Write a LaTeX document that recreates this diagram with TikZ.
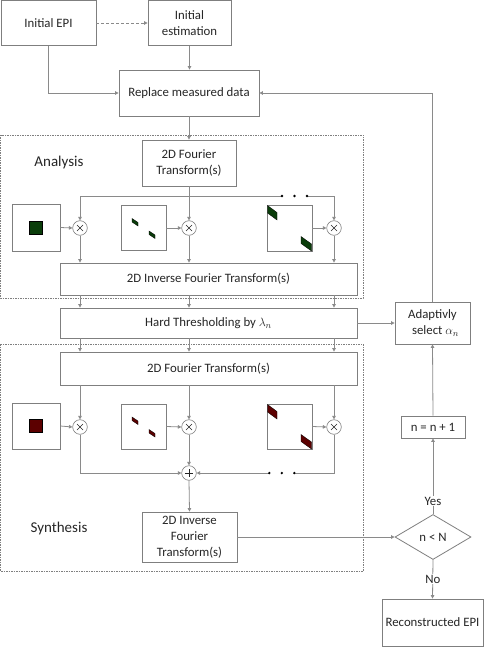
\documentclass[tikz,border=0pt]{standalone}
\usepackage{fontspec}
\setmainfont{Carlito}
\usetikzlibrary{arrows.meta,shapes.geometric}
\definecolor{ln}{HTML}{8A8A8A}
\definecolor{bd}{HTML}{7F7F7F}
\definecolor{dgreen}{HTML}{0A3D0A}
\definecolor{dred}{HTML}{5C0000}
\definecolor{txt}{HTML}{262626}
\tikzset{
  box/.style={draw=bd, line width=0.8pt, fill=white, inner sep=1pt, align=center,
    text=txt, font=\fontsize{12.8}{15.8}\selectfont},
  filt/.style={draw=bd, line width=0.8pt, fill=white, inner sep=0pt},
  mult/.style={draw=bd, line width=0.6pt, circle, minimum size=14.6pt, inner sep=0pt, fill=white,
    path picture={\draw[txt, line width=0.6pt, shift={(path picture bounding box.center)}] (-3,-3)--(3,3) (-3,3)--(3,-3);}},
  plus/.style={draw=bd, line width=0.6pt, circle, minimum size=14.6pt, inner sep=0pt, fill=white,
    path picture={\draw[txt, line width=0.6pt, shift={(path picture bounding box.center)}] (-4,0)--(4,0) (0,-4)--(0,4);}},
  conn/.style={draw=ln, line width=0.8pt},
  arr/.style={conn, -{Triangle[length=3.5pt,width=3.5pt]}},
  grp/.style={draw=bd, line width=0.6pt, dash pattern=on 1.5pt off 1pt},
  lbl/.style={text=txt, font=\fontsize{12.8}{15.8}\selectfont, fill=white, inner sep=1pt},
  big/.style={text=txt, font=\fontsize{15}{18}\selectfont},
  dot/.style={fill=black, circle, inner sep=0pt, minimum size=2.6pt}
}
\begin{document}
\begin{tikzpicture}[x=1pt, y=-1pt]
\useasboundingbox (0,0) rectangle (485,647);
% group boxes
\draw[grp] (0.5,135) rectangle (363,298);
\draw[grp] (0.5,344) rectangle (363,571);
\node[big] (analysis) at (59,163) {Analysis};
\node[big] (synthesis) at (59,528) {Synthesis};
% top
\node[box, minimum width=95pt, minimum height=45pt] (epi) at (48.5,23) {Initial EPI};
\node[box, minimum width=83pt, minimum height=45pt] (est) at (189.5,23) {Initial\\estimation};
\node[box, minimum width=140pt, minimum height=46pt] (rep) at (189,93) {Replace measured data};
% analysis
\node[box, minimum width=94pt, minimum height=46pt] (ft1) at (189,163) {2D Fourier\\Transform(s)};
\node[mult] (m1) at (80,228) {};
\node[mult] (m2) at (189,228) {};
\node[mult] (m3) at (334,228) {};
\node[filt, minimum width=48pt, minimum height=47pt] (f1) at (36,227.5) {};
\node[filt, minimum width=45pt, minimum height=45pt] (f2) at (143.5,228) {};
\node[filt, minimum width=45pt, minimum height=46pt] (f3) at (289.5,228) {};
\node[box, minimum width=297pt, minimum height=32pt] (ifft1) at (208.5,279) {2D Inverse Fourier Transform(s)};
\node[box, minimum width=297pt, minimum height=30pt] (ht) at (208.5,323) {Hard Thresholding by $\lambda_n$};
\node[box, minimum width=75pt, minimum height=42pt] (ada) at (432.5,323) {Adaptivly\\\hspace*{6pt}select $\alpha_n$};
% filter contents (analysis)
\fill[dgreen, draw=black, line width=0.3pt] (29.5,221) rectangle (42.5,234);
\fill[dgreen, draw=black, line width=0.3pt] (132,218.5) -- (138,222.5) -- (138,226) -- (132,222) -- cycle;
\fill[dgreen, draw=black, line width=0.3pt] (149,231) -- (155,235) -- (155,238.5) -- (149,234.5) -- cycle;
\fill[dgreen, draw=black, line width=0.3pt] (267.5,205.5) -- (277,212.5) -- (277,220) -- (267.5,213) -- cycle;
\fill[dgreen, draw=black, line width=0.3pt] (301,236.5) -- (311.5,244) -- (311.5,251) -- (301,243.5) -- cycle;
% synthesis
\node[box, minimum width=297pt, minimum height=33pt] (ft2) at (208.5,368.5) {2D Fourier Transform(s)};
\node[mult] (s1) at (80,427) {};
\node[mult] (s2) at (189,427) {};
\node[mult] (s3) at (334,427) {};
\node[filt, minimum width=48pt, minimum height=46pt] (g1) at (36,426) {};
\node[filt, minimum width=45pt, minimum height=45pt] (g2) at (143.5,426.5) {};
\node[filt, minimum width=45pt, minimum height=45pt] (g3) at (289.5,426.5) {};
\fill[dred, draw=black, line width=0.3pt] (29.5,419.5) rectangle (42.5,432.5);
\fill[dred, draw=black, line width=0.3pt] (132,417) -- (138,421) -- (138,424.5) -- (132,420.5) -- cycle;
\fill[dred, draw=black, line width=0.3pt] (149,429.5) -- (155,433.5) -- (155,437) -- (149,433) -- cycle;
\fill[dred, draw=black, line width=0.3pt] (267.5,404.5) -- (277,411.5) -- (277,419) -- (267.5,412) -- cycle;
\fill[dred, draw=black, line width=0.3pt] (301,434.5) -- (311.5,442) -- (311.5,449) -- (301,441.5) -- cycle;
\node[plus] (sum) at (189,473) {};
\node[box, minimum width=95pt, minimum height=50pt] (ifft2) at (189.5,537) {2D Inverse\\Fourier\\Transform(s)};
% right column
\node[box, diamond, minimum width=76pt, minimum height=45pt, inner sep=0pt] (dia) at (433,537) {n < N};
\node[box, minimum width=64pt, minimum height=22pt] (nn) at (433,427) {n = n + 1};
\node[box, minimum width=101pt, minimum height=47pt] (rec) at (432.5,622.5) {Reconstructed EPI};
% coordinates
\coordinate (bm) at (189,196);
\coordinate (b1) at (80,196);
\coordinate (b3) at (334,196);
\coordinate (d1) at (282,196);
\coordinate (d3) at (307,196);
\coordinate (e1) at (269.3,473);
\coordinate (e3) at (294.3,473);
% connectors top
\draw[arr, dash pattern=on 3pt off 2pt] (epi.east) -- (est.west);
\draw[arr] (est.south) -- (est.south |- rep.north);
\draw[arr] (epi.south) |- (rep.west);
\draw[arr] (rep.south) -- (ft1.north);
% analysis branches
\draw[conn] (ft1.south) -- (bm);
\draw[conn] (b1) -- (d1);
\draw[conn] (d3) -- (b3);
\node[dot] (dd1) at (d1) {};
\node[dot] (dd2) at (294.5,196) {};
\node[dot] (dd3) at (d3) {};
\draw[arr] (b1) -- (m1.north);
\draw[arr] (bm) -- (m2.north);
\draw[arr] (b3) -- (m3.north);
\draw[arr] (f1.east) -- (m1.west);
\draw[arr] (f2.east) -- (m2.west);
\draw[arr] (f3.east) -- (m3.west);
\draw[arr] (m1.south) -- (m1.south |- ifft1.north);
\draw[arr] (m2.south) -- (m2.south |- ifft1.north);
\draw[arr] (m3.south) -- (m3.south |- ifft1.north);
\draw[arr] (ifft1.south -| m1) -- (ht.north -| m1);
\draw[arr] (ifft1.south -| m2) -- (ht.north -| m2);
\draw[arr] (ifft1.south -| m3) -- (ht.north -| m3);
\draw[arr] (ht.south -| m1) -- (ft2.north -| m1);
\draw[arr] (ht.south -| m2) -- (ft2.north -| m2);
\draw[arr] (ht.south -| m3) -- (ft2.north -| m3);
% synthesis
\draw[arr] (s1.north |- ft2.south) -- (s1.north);
\draw[arr] (s2.north |- ft2.south) -- (s2.north);
\draw[arr] (s3.north |- ft2.south) -- (s3.north);
\draw[arr] (g1.east) -- (s1.west);
\draw[arr] (g2.east) -- (s2.west);
\draw[arr] (g3.east) -- (s3.west);
\draw[arr] (s1.south) |- (sum.west);
\draw[arr] (s2.south) -- (sum.north);
\draw[conn] (s3.south) |- (e3);
\draw[arr] (e1) -- (sum.east);
\node[dot] (ed1) at (e1) {};
\node[dot] (ed2) at (281.8,473) {};
\node[dot] (ed3) at (e3) {};
\draw[arr] (sum.south) -- (ifft2.north);
% right column
\draw[arr] (ht.east) -- (ada.west);
\draw[arr] (ifft2.east) -- (dia.west);
\draw[arr] (dia.north) -- node[lbl, pos=0.17] {Yes} (nn.south);
\draw[arr] (nn.north) -- (ada.south);
\draw[arr] (ada.north) |- (rep.east);
\draw[arr] (dia.south) -- node[lbl, pos=0.5] {No} (rec.north);
\end{tikzpicture}
\end{document}
